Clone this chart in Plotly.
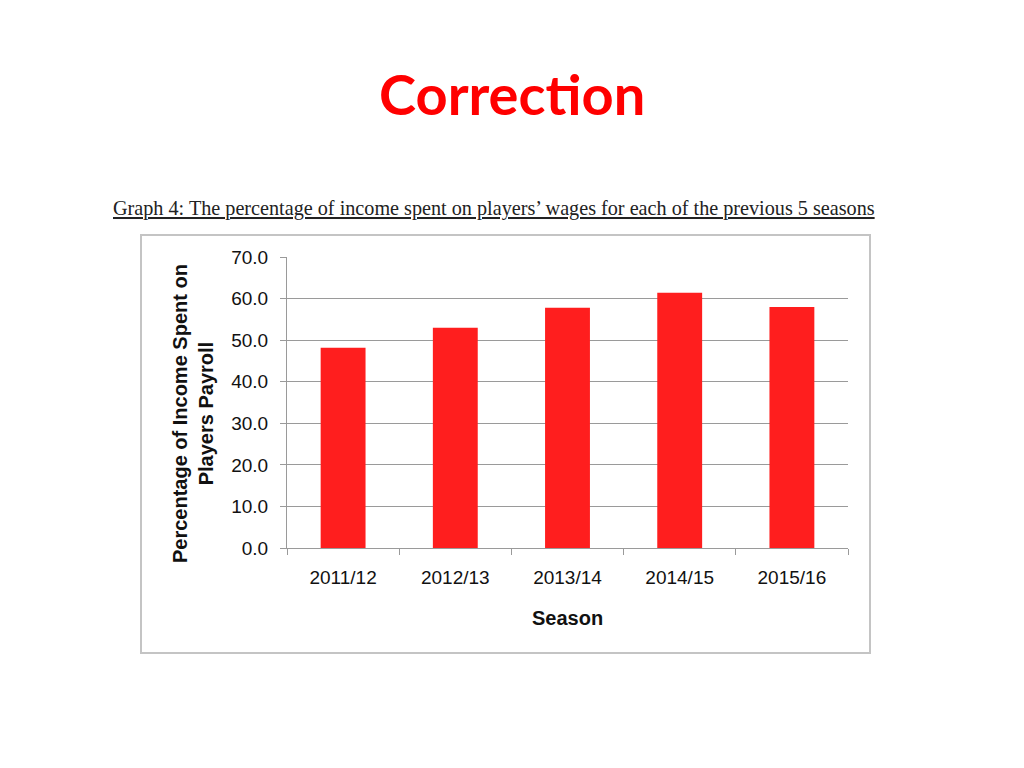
import plotly.graph_objects as go

seasons = ["2011/12", "2012/13", "2013/14", "2014/15", "2015/16"]
pct_wages = [48.2, 53.0, 57.8, 61.4, 58.0]
y_ticks = [0, 10, 20, 30, 40, 50, 60, 70]

W, H = 1024, 768
# map target screen pixels to paper coords (page has body offset)
def px(x):
    return (x - 8) / W
def py(y):
    return 1 - ((y - 18) / 0.9725) / H

fig = go.Figure()
fig.add_trace(go.Bar(
    x=seasons, y=pct_wages,
    marker=dict(color="#FF1E1E", line=dict(width=0)),
    width=0.4,
))

fig.update_layout(
    width=W, height=H,
    margin=dict(l=0, r=0, t=0, b=0),
    paper_bgcolor="white", plot_bgcolor="white",
    showlegend=False,
    font=dict(family="Liberation Sans, Arial, sans-serif", color="#1a1a1a"),
    xaxis=dict(
        domain=[px(287), px(848)],
        type="category",
        showgrid=False,
        showline=True, linecolor="#9a9a9a", linewidth=1,
        ticks="outside", ticklen=6, tickcolor="#9a9a9a", tickson="boundaries",
        ticklabelstandoff=12,
        tickfont=dict(size=19, color="#111111"),
        anchor="y",
    ),
    yaxis=dict(
        domain=[py(548), py(257)],
        range=[0, 70],
        tickvals=y_ticks,
        ticktext=[f"{v:.1f}" for v in y_ticks],
        showgrid=True, gridcolor="#9a9a9a", gridwidth=1,
        showline=True, linecolor="#9a9a9a", linewidth=1,
        ticks="outside", ticklen=6, tickcolor="#9a9a9a",
        ticklabelstandoff=8,
        tickfont=dict(size=19, color="#111111"),
        zeroline=False,
        anchor="x",
    ),
    shapes=[dict(
        type="rect", xref="paper", yref="paper",
        x0=px(141), x1=px(870), y0=py(653), y1=py(235),
        line=dict(color="#c4c4c4", width=2), fillcolor="rgba(0,0,0,0)", layer="below",
    )],
    annotations=[
        dict(text="<b>Correction</b>", xref="paper", yref="paper",
             x=px(512), y=py(93), xanchor="center", yanchor="middle", showarrow=False,
             font=dict(family="Lato, Roboto, sans-serif", size=56, color="#FF0000")),
        dict(text="<u>Graph 4: The percentage of income spent on players\u2019 wages for each of the previous 5 seasons</u>",
             xref="paper", yref="paper",
             x=px(494), y=py(208), xanchor="center", yanchor="middle", showarrow=False,
             font=dict(family="Liberation Serif, Times New Roman, serif", size=20.2, color="#222222")),
        dict(text="<b>Season</b>", xref="paper", yref="paper",
             x=px(567), y=py(618), xanchor="center", yanchor="middle", showarrow=False,
             font=dict(size=20, color="#111111")),
        dict(text="<b>Percentage of Income Spent on<br>Players Payroll</b>", xref="paper", yref="paper",
             x=px(193), y=py(414), xanchor="center", yanchor="middle", showarrow=False,
             textangle=-90,
             font=dict(size=20, color="#111111")),
    ],
)

fig.write_html("out.html")
